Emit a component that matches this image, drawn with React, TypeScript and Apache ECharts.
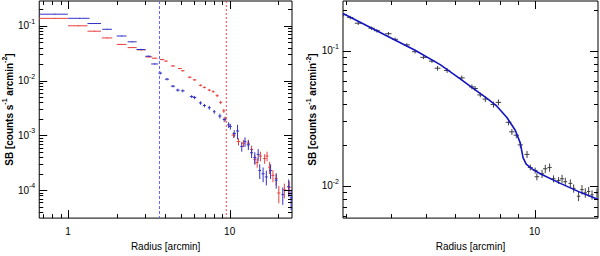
import React, { useEffect, useRef } from "react";
import * as echarts from "echarts";

// ---------- Data (left panel) ----------
const blueR = [0.83, 1.18, 1.46, 1.75, 2.15, 2.5, 2.83, 3.14, 3.44, 3.72, 4.1, 4.46, 4.78, 5.13, 5.82, 6.07, 6.6, 6.98, 7.48, 8.03, 8.7, 9.25, 9.86, 10.1, 10.67, 11.19, 11.88, 12.44, 13.05, 13.67, 14.31, 15.01, 15.35, 16.1, 16.86, 17.91, 19.4, 21.31, 23.17, 24.0];
const blueSB = [0.163, 0.137, 0.11, 0.0864, 0.0651, 0.051, 0.0369, 0.0278, 0.0201, 0.0137, 0.0106, 0.0079, 0.0067, 0.0065, 0.0051, 0.0049, 0.0039, 0.0035, 0.0032, 0.0027, 0.00225, 0.00195, 0.00155, 0.00145, 0.00108, 0.0012, 0.000628, 0.000769, 0.000673, 0.000481, 0.000393, 0.000449, 0.000228, 0.000199, 0.000174, 0.000228, 0.000152, 0.0000827, 0.000116, 0.0000723];
const blueRErr = [0.167, 0.18, 0.14, 0.12, 0.15, 0.16, 0.18, 0.13, 0.17, 0.1, 0.12, 0.13, 0.13, 0.13, 0.15, 0.15, 0.15, 0.15, 0.15, 0.15, 0.2, 0.2, 0.2, 0.2, 0.25, 0.25, 0.25, 0.25, 0.3, 0.3, 0.3, 0.3, 0.3, 0.35, 0.35, 0.35, 0.4, 0.4, 0.5, 0.5];
const blueSBErr = [0.02, 0.02, 0.02, 0.02, 0.02, 0.02, 0.03, 0.03, 0.03, 0.06, 0.05, 0.05, 0.06, 0.06, 0.06, 0.07, 0.07, 0.07, 0.08, 0.08, 0.1, 0.1, 0.12, 0.12, 0.15, 0.3, 0.2, 0.2, 0.2, 0.2, 0.25, 0.25, 0.3, 0.3, 0.3, 0.3, 0.3, 0.35, 0.35, 0.4];

const redR = [0.83, 1.16, 1.46, 1.75, 2.15, 2.5, 2.85, 3.17, 3.44, 3.82, 4.04, 4.46, 4.92, 5.13, 5.66, 6.07, 6.6, 6.98, 7.48, 7.91, 8.37, 8.8, 9.2, 9.45, 10.58, 11.34, 12.17, 13.05, 13.67, 14.31, 14.8, 15.5, 16.46, 17.03, 17.66, 18.52, 19.4, 20.14, 21.79, 23.37];
const redSB = [0.1367, 0.1, 0.0797, 0.06, 0.0457, 0.04, 0.0363, 0.027, 0.0256, 0.0242, 0.0227, 0.0185, 0.0166, 0.0151, 0.0115, 0.0103, 0.0082, 0.0075, 0.0067, 0.0063, 0.0053, 0.004, 0.0028, 0.002, 0.00101, 0.000769, 0.000721, 0.000721, 0.00055, 0.000366, 0.00032, 0.000419, 0.000377, 0.000419, 0.000262, 0.000186, 0.000163, 0.0000886, 0.000101, 0.000112];
const redRErr = [0.167, 0.16, 0.14, 0.13, 0.15, 0.16, 0.17, 0.15, 0.13, 0.12, 0.1, 0.13, 0.13, 0.13, 0.15, 0.15, 0.15, 0.15, 0.15, 0.15, 0.18, 0.18, 0.2, 0.15, 0.3, 0.3, 0.3, 0.3, 0.3, 0.3, 0.3, 0.35, 0.35, 0.35, 0.35, 0.4, 0.4, 0.45, 0.5, 0.5];
const redSBErr = [0.02, 0.02, 0.02, 0.02, 0.02, 0.02, 0.02, 0.02, 0.02, 0.03, 0.03, 0.03, 0.03, 0.03, 0.04, 0.04, 0.04, 0.04, 0.05, 0.05, 0.06, 0.07, 0.08, 0.1, 0.12, 0.15, 0.15, 0.15, 0.18, 0.2, 0.2, 0.2, 0.2, 0.2, 0.25, 0.25, 0.25, 0.35, 0.3, 0.3];

const blueCutR = 3.68;
const redCutR = 9.53;

// ---------- Data (right panel) ----------
const fitR = [2.95, 3.08, 3.24, 3.53, 3.65, 3.93, 4.1, 4.42, 4.66, 4.92, 5.19, 5.38, 5.72, 6.28, 6.7, 6.84, 7.07, 7.3, 7.69, 7.94, 8.47, 8.65, 8.9, 9.13, 9.53, 9.73, 10.04, 10.15, 10.49, 10.71, 11.01, 11.29, 11.66, 11.92, 12.17, 12.57, 12.84, 13.25, 13.54, 13.83, 14.13, 14.44, 14.9];
const fitSB = [0.184, 0.175, 0.159, 0.146, 0.14, 0.133, 0.121, 0.11, 0.098, 0.089, 0.0835, 0.074, 0.0712, 0.0628, 0.0539, 0.0524, 0.047, 0.0438, 0.0399, 0.0414, 0.0295, 0.0251, 0.0237, 0.0201, 0.0171, 0.0137, 0.013, 0.0117, 0.0123, 0.0134, 0.0137, 0.0113, 0.011, 0.0113, 0.01075, 0.01045, 0.0096, 0.0084, 0.0094, 0.0089, 0.0091, 0.0086, 0.0089];
const fitRErr = [0.06, 0.06, 0.07, 0.07, 0.07, 0.08, 0.08, 0.09, 0.09, 0.1, 0.1, 0.1, 0.11, 0.12, 0.12, 0.12, 0.13, 0.13, 0.14, 0.14, 0.15, 0.15, 0.15, 0.15, 0.15, 0.15, 0.15, 0.15, 0.15, 0.15, 0.15, 0.15, 0.15, 0.15, 0.15, 0.15, 0.15, 0.15, 0.15, 0.15, 0.15, 0.15, 0.15];
const fitSBErr = [0.03, 0.03, 0.03, 0.03, 0.03, 0.03, 0.03, 0.03, 0.03, 0.03, 0.03, 0.04, 0.04, 0.04, 0.04, 0.04, 0.04, 0.05, 0.05, 0.05, 0.05, 0.05, 0.05, 0.05, 0.06, 0.05, 0.05, 0.06, 0.07, 0.07, 0.07, 0.06, 0.06, 0.07, 0.07, 0.07, 0.07, 0.08, 0.08, 0.08, 0.08, 0.08, 0.08];

const modelR = [2.94, 3.97, 4.66, 5.47, 6.22, 6.77, 7.38, 7.86, 8.38, 8.84, 9.13, 9.29, 9.48, 9.84, 10.37, 11.79, 13.4, 15.03];
const modelSB = [0.1875, 0.1248, 0.1005, 0.0786, 0.0617, 0.0524, 0.0443, 0.0388, 0.032, 0.02576, 0.0207, 0.0162, 0.0145, 0.01337, 0.01232, 0.01045, 0.00897, 0.00795];

// axis extents
const L_X = [0.664, 24.3];
const L_Y = [3.085e-5, 0.2836];
const R_X = [2.94, 15.0];
const R_Y = [0.005791, 0.232];

const F = '"Liberation Sans", Arial, Helvetica, sans-serif';

function isPow(v: number) {
  const l = Math.log10(v);
  const k = Math.round(l);
  return Math.abs(l - k) < 1e-6 ? k : null;
}

const fmtX = (v: number) => {
  const k = isPow(v);
  if (k === null) return "";
  return String(Math.round(Math.pow(10, k)));
};
const fmtY = (v: number) => {
  const k = isPow(v);
  if (k === null) return "";
  return `{b|10}{s|${k}}`;
};

const labelRich = {
  b: { fontSize: 10, fontFamily: F, color: "#000", lineHeight: 16 },
  s: { fontSize: 7, fontFamily: F, color: "#000", verticalAlign: "top", lineHeight: 16 },
};
const nameRich = {
  a: { fontSize: 10, fontFamily: F, color: "#000", fontWeight: "bold", lineHeight: 16 },
  s: { fontSize: 7, fontFamily: F, color: "#000", fontWeight: "bold", verticalAlign: "top", lineHeight: 16 },
};

function errData(r: number[], sb: number[], re: number[], se: number[]) {
  return r.map((v, i) => [v, sb[i], re[i], se[i]]);
}

function errSeries(name: string, idx: number, data: number[][], color: string) {
  return {
    name,
    type: "custom",
    xAxisIndex: idx,
    yAxisIndex: idx,
    clip: true,
    silent: true,
    encode: { x: 0, y: 1 },
    data,
    renderItem: (params: any, api: any) => {
      const r = api.value(0);
      const sb = api.value(1);
      const re = api.value(2);
      const se = api.value(3);
      const pL = api.coord([r - re, sb]);
      const pR = api.coord([r + re, sb]);
      const pT = api.coord([r, sb * (1 + se)]);
      const pB = api.coord([r, sb * (1 - se)]);
      return {
        type: "group",
        children: [
          { type: "line", shape: { x1: pL[0], y1: pL[1], x2: pR[0], y2: pR[1] }, style: { stroke: color, lineWidth: 1 } },
          { type: "line", shape: { x1: pT[0], y1: pT[1], x2: pB[0], y2: pB[1] }, style: { stroke: color, lineWidth: 1 } },
        ],
      };
    },
  };
}

function cutSeries(idx: number, value: number, yr: number[], color: string, dash: number[]) {
  return {
    type: "custom",
    xAxisIndex: idx,
    yAxisIndex: idx,
    silent: true,
    clip: true,
    data: [[value, yr[0]]],
    encode: { x: 0, y: 1 },
    z: 3,
    renderItem: (params: any, api: any) => {
      const cs = params.coordSys;
      const x = api.coord([api.value(0), yr[0]])[0];
      return {
        type: "line",
        shape: { x1: x, y1: cs.y, x2: x, y2: cs.y + cs.height },
        style: { stroke: color, lineWidth: 1, lineDash: dash },
      };
    },
  };
}

function tickSeries(idx: number, xr: number[], yr: number[]) {
  return {
    type: "custom",
    xAxisIndex: idx,
    yAxisIndex: idx,
    silent: true,
    clip: false,
    data: [[xr[0], yr[0]]],
    encode: { x: 0, y: 1 },
    z: 10,
    renderItem: (params: any, api: any) => {
      const cs = params.coordSys;
      const children: any[] = [];
      const st = { stroke: "#000", lineWidth: 1 };
      const addX = (v: number, len: number) => {
        const x = Math.round(api.coord([v, yr[0]])[0]) + 0.5;
        children.push({ type: "line", shape: { x1: x, y1: cs.y + cs.height, x2: x, y2: cs.y + cs.height - len }, style: st });
        children.push({ type: "line", shape: { x1: x, y1: cs.y, x2: x, y2: cs.y + len }, style: st });
      };
      const addY = (v: number, len: number) => {
        const y = Math.round(api.coord([xr[0], v])[1]) + 0.5;
        children.push({ type: "line", shape: { x1: cs.x, y1: y, x2: cs.x + len, y2: y }, style: st });
        children.push({ type: "line", shape: { x1: cs.x + cs.width, y1: y, x2: cs.x + cs.width - len, y2: y }, style: st });
      };
      for (let d = Math.floor(Math.log10(xr[0])); d <= Math.ceil(Math.log10(xr[1])); d++) {
        for (let m = 1; m <= 9; m++) {
          const v = m * Math.pow(10, d);
          if (v > xr[0] && v < xr[1]) addX(v, m === 1 ? 8 : 4);
        }
      }
      for (let d = Math.floor(Math.log10(yr[0])); d <= Math.ceil(Math.log10(yr[1])); d++) {
        for (let m = 1; m <= 9; m++) {
          const v = m * Math.pow(10, d);
          if (v > yr[0] && v < yr[1]) addY(v, m === 1 ? 8 : 4);
        }
      }
      return { type: "group", children };
    },
  };
}

function xAxisCfg(idx: number, ext: number[]) {
  return {
    type: "log",
    logBase: 10,
    gridIndex: idx,
    min: ext[0],
    max: ext[1],
    axisLine: { show: false },
    axisTick: { show: false },
    splitLine: { show: false },
    axisLabel: { formatter: fmtX, margin: 8, fontSize: 10, fontFamily: F, color: "#000", showMinLabel: false, showMaxLabel: false },
    name: "Radius [arcmin]",
    nameLocation: "middle",
    nameGap: 19,
    nameTextStyle: { fontSize: 10, fontFamily: F, color: "#000" },
  };
}

function yAxisCfg(idx: number, ext: number[]) {
  return {
    type: "log",
    logBase: 10,
    gridIndex: idx,
    min: ext[0],
    max: ext[1],
    axisLine: { show: false },
    axisTick: { show: false },
    splitLine: { show: false },
    axisLabel: { formatter: fmtY, margin: 4, rich: labelRich, showMinLabel: false, showMaxLabel: false },
    name: "{a|SB [counts s}{s|-1}{a| arcmin}{s|-2}{a|]}",
    nameLocation: "middle",
    nameGap: 20,
    nameTextStyle: { rich: nameRich },
  };
}

export default function App() {
  const ref = useRef<HTMLDivElement>(null);
  useEffect(() => {
    if (!ref.current) return;
    const chart = echarts.init(ref.current, null, { renderer: "svg" });
    const option: any = {
      animation: false,
      backgroundColor: "#fff",
      grid: [
        { left: 35, top: 1, width: 257, height: 225, show: true, borderColor: "#000", borderWidth: 1, backgroundColor: "transparent" },
        { left: 343, top: 1, width: 255, height: 225, show: true, borderColor: "#000", borderWidth: 1, backgroundColor: "transparent" },
      ],
      xAxis: [xAxisCfg(0, L_X), xAxisCfg(1, R_X)],
      yAxis: [yAxisCfg(0, L_Y), yAxisCfg(1, R_Y)],
      series: [
        cutSeries(0, blueCutR, L_Y, "#6464ff", [3, 2]),
        cutSeries(0, redCutR, L_Y, "#e84848", [2, 2]),
        errSeries("red", 0, errData(redR, redSB, redRErr, redSBErr), "#e8403c"),
        errSeries("blue", 0, errData(blueR, blueSB, blueRErr, blueSBErr), "#3232c8"),
        errSeries("data", 1, errData(fitR, fitSB, fitRErr, fitSBErr), "#404040"),
        {
          type: "line",
          xAxisIndex: 1,
          yAxisIndex: 1,
          color: "#1414c0",
          data: modelR.map((r, i) => [r, modelSB[i]]),
          showSymbol: false,
          silent: true,
          smooth: false,
          z: 5,
          lineStyle: { color: "#1414c0", width: 1.6 },
        },
        tickSeries(0, L_X, L_Y),
        tickSeries(1, R_X, R_Y),
      ],
    };
    chart.setOption(option);
    return () => chart.dispose();
  }, []);
  return <div ref={ref} style={{ position: "absolute", left: 0, top: 0, width: 600, height: 256 }} />;
}
